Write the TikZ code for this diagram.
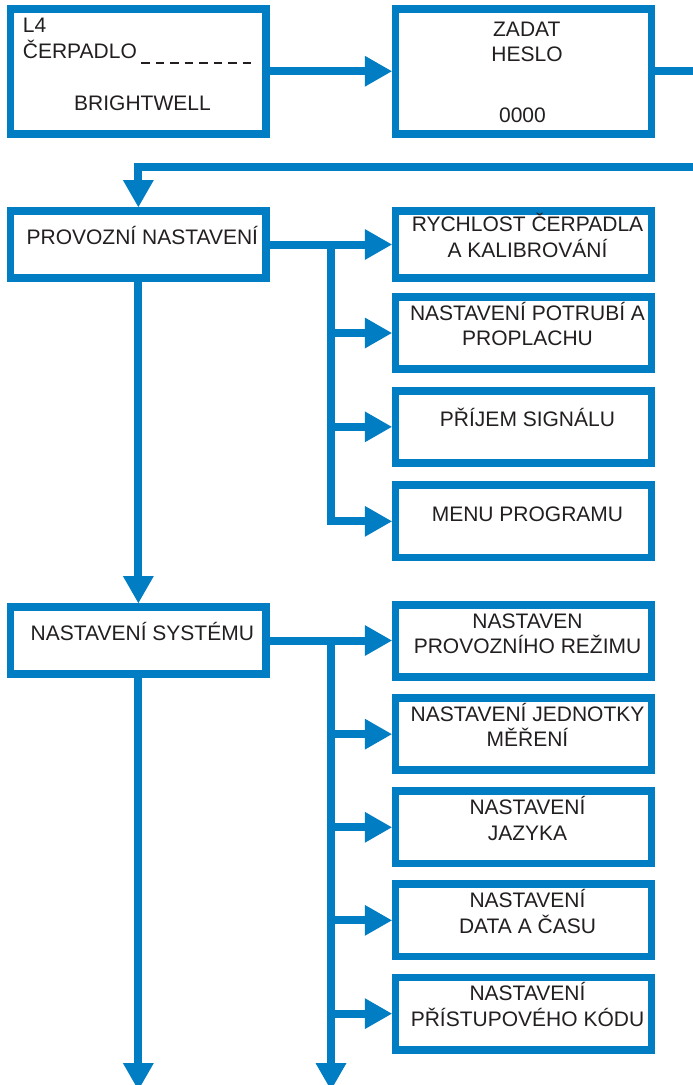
\documentclass[tikz,border=0pt]{standalone}
\usepackage{fontspec}
\setmainfont{Liberation Sans}
\usetikzlibrary{arrows.meta}
\definecolor{bl}{RGB}{0,125,195}
\definecolor{tx}{RGB}{35,31,32}
\newcommand\twol[3]{%
  \node[txt] (#1-a) at ([xshift=4pt,yshift=12.8pt]#1.center) {#2};
  \node[txt] (#1-b) at ([xshift=4pt,yshift=-12.8pt]#1.center) {#3};}
\newcommand\onel[2]{%
  \node[txt] (#1-a) at ([xshift=4pt]#1.center) {#2};}
\begin{document}
\begin{tikzpicture}[x=1pt,y=-1pt,
  box/.style={draw=bl, fill=white, line width=7.7pt, minimum width=255.8pt, inner sep=0pt, outer sep=3.85pt},
  tall/.style={box, minimum height=124.8pt},
  mid/.style={box, minimum height=67.3pt},
  std/.style={box, minimum height=72.3pt},
  txt/.style={anchor=base, inner sep=0pt, text=tx, font=\fontsize{21}{25.6}\selectfont},
  conn/.style={draw=bl, line width=8pt, line join=miter},
  arr/.style={conn, -{Triangle[length=27pt,width=31pt,line width=0pt]}}]
\useasboundingbox (0,0) rectangle (693,1085);
\fill[white] (0,0) rectangle (693,1085);
% boxes
\node[tall] (b1) at (138.35,71.25) {};
\node[tall] (b2) at (523.5,71.25) {};
\node[mid]  (b3) at (138.35,244.5) {};
\node[mid]  (r1) at (523.5,244.5) {};
\node[std]  (r2) at (523.5,333) {};
\node[std]  (r3) at (523.5,426.85) {};
\node[std]  (r4) at (523.5,521.35) {};
\node[mid]  (b4) at (138.35,640.5) {};
\node[std]  (s1) at (523.5,641) {};
\node[std]  (s2) at (523.5,734.15) {};
\node[std]  (s3) at (523.5,827.3) {};
\node[std]  (s4) at (523.5,920.35) {};
\node[std]  (s5) at (523.5,1013.65) {};
% texts
\node[txt, anchor=base west] (t1) at (22.7,32.7) {L4};
\node[txt, anchor=base west] (t2) at (22.7,58.3) {ČERPADLO};
\draw[tx, line width=2.2pt, dash pattern=on 8.6pt off 5.9pt] (141,63.2) -- (252,63.2);
\node[txt] (t3) at (142.5,110) {BRIGHTWELL};
\node[txt] (t4) at (526.8,36) {ZADAT};
\node[txt] (t5) at (527,61) {HESLO};
\node[txt] (t6) at (522.5,122.7) {0000};
\onel{b3}{PROVOZNÍ NASTAVENÍ}
\twol{r1}{RYCHLOST ČERPADLA}{A KALIBROVÁNÍ}
\twol{r2}{NASTAVENÍ POTRUBÍ A}{PROPLACHU}
\onel{r3}{PŘÍJEM SIGNÁLU}
\onel{r4}{MENU PROGRAMU}
\onel{b4}{NASTAVENÍ SYSTÉMU}
\twol{s1}{NASTAVEN}{PROVOZNÍHO REŽIMU}
\twol{s2}{NASTAVENÍ JEDNOTKY}{MĚŘENÍ}
\twol{s3}{NASTAVENÍ}{JAZYKA}
\twol{s4}{NASTAVENÍ}{DATA A ČASU}
\twol{s5}{NASTAVENÍ}{PŘÍSTUPOVÉHO KÓDU}
% coordinates
\coordinate (o1) at (697,71.25);
\coordinate (o2) at (697,167.2);
\coordinate (j1) at (331,244.5);
\coordinate (j2) at (331,640.5);
\coordinate (e1) at (138.35,1090);
\coordinate (e2) at (331,1090);
% connectors
\draw[arr] (b1.east) -- (b2.west);
\draw[conn] (b2.east) -- (o1);
\draw[arr] (o2) -| (b3.north);
\draw[arr] (b3.east) -- (r1.west);
\draw[arr] (j1) |- (r4.west);
\draw[arr] (j1 |- r2.west) -- (r2.west);
\draw[arr] (j1 |- r3.west) -- (r3.west);
\draw[arr] (b3.south) -- (b4.north);
\draw[arr] (b4.east) -- (b4.east -| s1.west);
\draw[arr] (j2) -- (e2);
\draw[arr] (j2 |- s2.west) -- (s2.west);
\draw[arr] (j2 |- s3.west) -- (s3.west);
\draw[arr] (j2 |- s4.west) -- (s4.west);
\draw[arr] (j2 |- s5.west) -- (s5.west);
\draw[arr] (b4.south) -- (e1);
\end{tikzpicture}
\end{document}
